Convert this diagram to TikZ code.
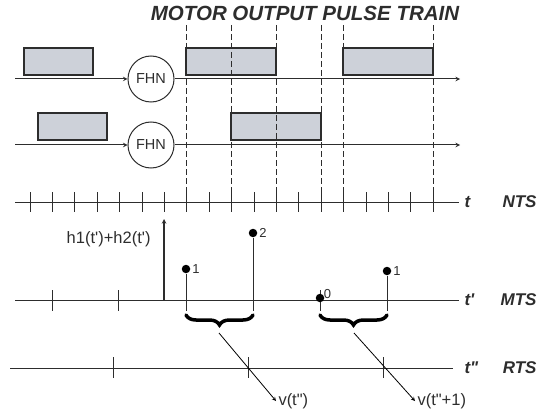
\documentclass[tikz,border=0pt]{standalone}
\usepackage{fontspec}
\setmainfont{Liberation Sans}
\usepackage{tikz}
\usetikzlibrary{calc,positioning,arrows,decorations.pathreplacing}
\definecolor{pulsefill}{RGB}{205,209,217}
\definecolor{ink}{RGB}{45,45,45}

\begin{document}
\begin{tikzpicture}[x=1pt,y=-1pt,line width=1pt,color=ink]
\tikzstyle{fhn}=[draw, circle, fill=white, minimum size=46pt, inner sep=0pt, font=\fontsize{14.5}{14.5}\selectfont]
\tikzstyle{pls}=[draw, fill=pulsefill, line width=1.1pt]
\tikzstyle{tk}=[line width=0.9pt]
\tikzstyle{gd}=[dash pattern=on 6pt off 3pt, line width=0.8pt]
\tikzstyle{ax}=[inner sep=0pt, anchor=west, font=\fontsize{17}{17}\selectfont\bfseries\itshape]
\tikzstyle{sc}=[inner sep=0pt, anchor=east, font=\fontsize{17}{17}\selectfont\bfseries\itshape]
\tikzstyle{dot}=[circle, fill=black, inner sep=0pt, minimum size=8.5pt]
\tikzstyle{num}=[inner sep=1pt, font=\fontsize{13}{13}\selectfont]
\tikzstyle{lbl}=[inner sep=2pt, font=\fontsize{16.5}{16.5}\selectfont]
\tikzstyle{brc}=[decorate, decoration={brace, amplitude=10pt, aspect=0.5}, line width=3.5pt, line cap=round, black]
\useasboundingbox (0,0) rectangle (538,409);
\node[font=\fontsize{20.5}{20.5}\selectfont\bfseries\itshape] (title) at (305,13) {MOTOR OUTPUT PULSE TRAIN};
\foreach \xa/\xb/\y in {24/93/48,186/276/48,343/433/48,38/107/113,231/321/113}{\draw[pls] (\xa,\y) rectangle (\xb,\y+27);}
\foreach \y/\n in {79/1,145/2}{
\coordinate (a\n) at (15,\y);
\node[fhn] (f\n) at (151,\y) {FHN};
\coordinate (e\n) at (460,\y);
\draw[-stealth] (a\n) -- (f\n);
\draw[-stealth] (f\n) -- (e\n);
}
\foreach \x in {186,231,276,321,343,433}{\draw[gd] (\x,25) -- (\x,200);}
\foreach \y/\n/\t/\s/\x in {202/0/t/NTS/15,300/1/t\textquotesingle/MTS/15,368/2/t\textquotedbl/RTS/10}{
\node[ax] (t\n) at (464,\y) {\t};
\node[sc] (s\n) at (537,\y) {\s};
\coordinate (o\n) at (\x,\y);
}
\draw (o0) -- ([xshift=-5pt]t0.west);
\draw (o1) -- ([xshift=-5pt]t1.west);
\draw (o2) -- ([xshift=-11pt]t2.west);
\foreach \i in {0,...,18}{\draw[tk] (30+22.4*\i,192) -- ++(0,20);}
\foreach \x in {52,118,320}{\draw[tk] (\x,290) -- ++(0,21);}
\foreach \x in {113,248,383}{\draw[tk] (\x,357) -- ++(0,21);}
\coordinate (h0) at (164,300);
\coordinate (h1) at (164,219);
\draw[-stealth, line width=1.1pt] (h0) -- (h1);
\node[lbl, anchor=east] (hs) at (153,239) {h1(t\textquotesingle)+h2(t\textquotesingle)};
\foreach \n/\x/\y/\v in {p1/186/269/1,p2/253/233/2,p4/387/271/1}{
\node[dot] (\n) at (\x,\y) {};
\node[num, right=0pt of \n] (\n l) {\v};
\coordinate (\n b) at (\x,311);
\draw (\n) -- (\n b);
}
\node[dot] (p3) at (320,298) {};
\node[num, above right=-5pt and -1pt of p3] (p3l) {0};
\coordinate (p3b) at (320,311);
\draw[brc] ([yshift=-4pt]p2b) -- ([yshift=-4pt]p1b);
\draw[brc] ([yshift=-4pt]p4b) -- ([yshift=-4pt]p3b);
\coordinate (q1) at (219,333);
\coordinate (q2) at (354,333);
\node[lbl, anchor=west] (v1) at (276,401) {v(t\textquotedbl)};
\node[lbl, anchor=west] (v2) at (415,401) {v(t\textquotedbl+1)};
\draw[-stealth, line width=0.8pt, black] (q1) -- (v1.west);
\draw[-stealth, line width=0.8pt, black] (q2) -- (v2.west);
\end{tikzpicture}
\end{document}
